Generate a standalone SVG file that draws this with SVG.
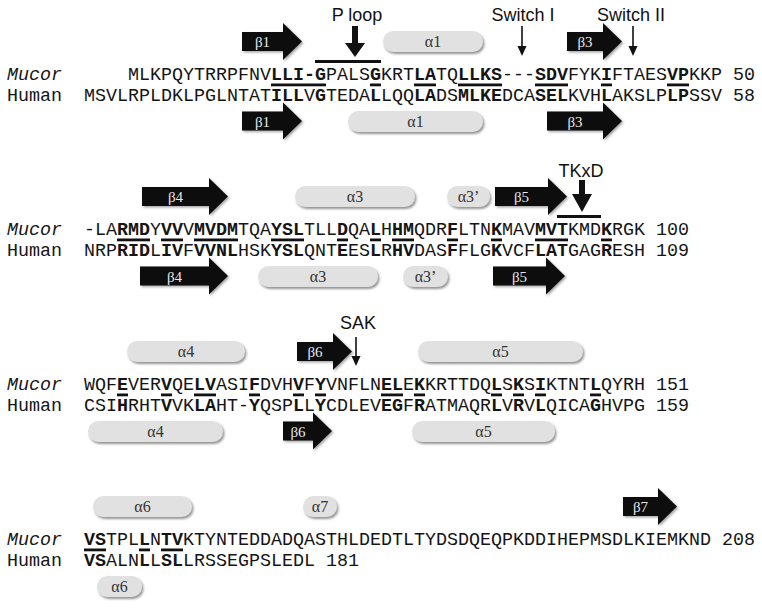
<svg xmlns="http://www.w3.org/2000/svg" width="762" height="609" viewBox="0 0 762 609">
<defs>
<filter id="sh" x="-10%" y="-10%" width="130%" height="140%"><feDropShadow dx="1.5" dy="1.5" stdDeviation="1" flood-color="#000" flood-opacity="0.35"/></filter>
<filter id="sh2" x="-10%" y="-20%" width="130%" height="150%"><feDropShadow dx="1.5" dy="2" stdDeviation="1" flood-color="#666" flood-opacity="0.7"/></filter>
</defs>
<style>
.seq{font-family:"Liberation Mono","Courier New",monospace;font-size:18.33px;fill:#151515}
.b{font-weight:bold}
.it{font-style:italic}
.lbl{font-family:"Liberation Sans",Arial,sans-serif;font-size:18px;fill:#111;text-anchor:middle}
.ul{fill:#111}
.strand{fill:#0d0d0d;filter:url(#sh)}
.st{font-family:"Liberation Serif","Times New Roman",serif;font-size:15px;fill:#e6e6e6;text-anchor:middle}
.helix{fill:#e1e1e1;filter:url(#sh2)}
.ht{font-family:"Liberation Serif","Times New Roman",serif;font-size:16px;fill:#333;text-anchor:middle}
.thin{stroke:#111;stroke-width:1.6;fill:none}
.head{fill:#111}
</style>
<rect width="762" height="609" fill="#fff"/>

<!-- Block 1 -->
<g id="block1">
  <g id="b1-labels">
    <text class="seq it" x="7" y="79.5">Mucor</text>
    <text class="seq" x="7" y="100.5">Human</text>
  </g>
  <text id="b1-mucor" class="seq" x="128" y="79.5">MLKPQYTRRPFNV<tspan class="b">LLI-G</tspan>PALS<tspan class="b">G</tspan>KRT<tspan class="b">LA</tspan>TQ<tspan class="b">LLKS</tspan>---<tspan class="b">SDV</tspan>FYK<tspan class="b">I</tspan>FTAES<tspan class="b">VP</tspan>KKP 50</text>
  <text id="b1-human" class="seq" x="84" y="100.5">MSVLRPLDKLPGLNTAT<tspan class="b">ILL</tspan>V<tspan class="b">G</tspan>TEDA<tspan class="b">L</tspan>LQQ<tspan class="b">LA</tspan>DS<tspan class="b">MLKE</tspan>DCA<tspan class="b">SEL</tspan>KVH<tspan class="b">L</tspan>AKSLP<tspan class="b">LP</tspan>SSV 58</text>
  <g id="b1-underlines" class="ul">
    <rect x="271" y="83.5" width="55" height="2.8"/>
    <rect x="370" y="83.5" width="11" height="2.8"/>
    <rect x="414" y="83.5" width="22" height="2.8"/>
    <rect x="458" y="83.5" width="44" height="2.8"/>
    <rect x="535" y="83.5" width="33" height="2.8"/>
    <rect x="601" y="83.5" width="11" height="2.8"/>
    <rect x="667" y="83.5" width="22" height="2.8"/>
    <rect x="315" y="60" width="66" height="3"/>
  </g>
  <g id="b1-ss">
    <path class="strand" d="M242,32 H283 V23 L302,41.5 L283,60 V51 H242 Z"/><text class="st" x="262.5" y="47">β1</text>
    <rect class="helix" x="383" y="31" width="100" height="21" rx="10.5"/><text class="ht" x="433" y="46.5">α1</text>
    <path class="strand" d="M567,32 H603 V23 L622,41.5 L603,60 V51 H567 Z"/><text class="st" x="585" y="47">β3</text>
    <path class="strand" d="M242,111.5 H283 V102.5 L302,121 L283,139.5 V130.5 H242 Z"/><text class="st" x="262.5" y="126.5">β1</text>
    <rect class="helix" x="348" y="111" width="135" height="21" rx="10.5"/><text class="ht" x="415.5" y="126.5">α1</text>
    <path class="strand" d="M547,111.5 H603 V102.5 L622,121 L603,139.5 V130.5 H547 Z"/><text class="st" x="575" y="126.5">β3</text>
  </g>
  <g id="b1-annot">
    <text class="lbl" x="357" y="21">P loop</text>
    <rect class="head" x="352" y="26" width="6" height="18"/>
    <polygon class="head" points="345,43 365,43 355,57"/>
    <text class="lbl" x="523" y="21">Switch I</text>
    <line class="thin" x1="522" y1="26" x2="522" y2="48"/>
    <polygon class="head" points="517.5,46 526.5,46 522,56"/>
    <text class="lbl" x="631" y="21">Switch II</text>
    <line class="thin" x1="633" y1="26" x2="633" y2="48"/>
    <polygon class="head" points="628.5,46 637.5,46 633,56"/>
  </g>
</g>

<!-- Block 2 -->
<g id="block2">
  <g id="b2-labels">
    <text class="seq it" x="7" y="234.5">Mucor</text>
    <text class="seq" x="7" y="255.5">Human</text>
  </g>
  <text id="b2-mucor" class="seq" x="84" y="234.5">-LA<tspan class="b">RMD</tspan>Y<tspan class="b">VV</tspan>V<tspan class="b">MVDM</tspan>TQA<tspan class="b">YSL</tspan>TLL<tspan class="b">D</tspan>QA<tspan class="b">L</tspan>H<tspan class="b">HM</tspan>QDR<tspan class="b">F</tspan>LTN<tspan class="b">K</tspan>MAV<tspan class="b">MVT</tspan>KMD<tspan class="b">K</tspan>RGK 100</text>
  <text id="b2-human" class="seq" x="84" y="255.5">NRP<tspan class="b">RID</tspan>L<tspan class="b">IV</tspan>F<tspan class="b">VVNL</tspan>HSK<tspan class="b">YSL</tspan>QNT<tspan class="b">E</tspan>ES<tspan class="b">L</tspan>R<tspan class="b">HV</tspan>DAS<tspan class="b">F</tspan>FLG<tspan class="b">K</tspan>VCF<tspan class="b">LAT</tspan>GAG<tspan class="b">R</tspan>ESH 109</text>
  <g id="b2-underlines" class="ul">
    <rect x="117" y="238.5" width="33" height="2.8"/>
    <rect x="161" y="238.5" width="22" height="2.8"/>
    <rect x="194" y="238.5" width="44" height="2.8"/>
    <rect x="271" y="238.5" width="33" height="2.8"/>
    <rect x="337" y="238.5" width="11" height="2.8"/>
    <rect x="370" y="238.5" width="11" height="2.8"/>
    <rect x="392" y="238.5" width="22" height="2.8"/>
    <rect x="447" y="238.5" width="11" height="2.8"/>
    <rect x="491" y="238.5" width="11" height="2.8"/>
    <rect x="535" y="238.5" width="33" height="2.8"/>
    <rect x="601" y="238.5" width="11" height="2.8"/>
    <rect x="557" y="215" width="44" height="3"/>
  </g>
  <g id="b2-ss">
    <path class="strand" d="M142,187 H209 V178 L228,196.5 L209,215 V206 H142 Z"/><text class="st" x="175.5" y="202">β4</text>
    <rect class="helix" x="295" y="186" width="120" height="21" rx="10.5"/><text class="ht" x="355" y="201.5">α3</text>
    <rect class="helix" x="447" y="186" width="43" height="21" rx="10.5"/><text class="ht" x="468.5" y="201.5">α3’</text>
    <path class="strand" d="M495,187 H548 V178 L567,196.5 L548,215 V206 H495 Z"/><text class="st" x="521.5" y="202">β5</text>
    <path class="strand" d="M140,266.5 H209 V257.5 L228,276 L209,294.5 V285.5 H140 Z"/><text class="st" x="174.5" y="281.5">β4</text>
    <rect class="helix" x="258" y="266" width="120" height="21" rx="10.5"/><text class="ht" x="318" y="281.5">α3</text>
    <rect class="helix" x="403" y="266" width="45" height="21" rx="10.5"/><text class="ht" x="425.5" y="281.5">α3’</text>
    <path class="strand" d="M493,266.5 H546 V257.5 L565,276 L546,294.5 V285.5 H493 Z"/><text class="st" x="519.5" y="281.5">β5</text>
  </g>
  <g id="b2-annot">
    <text class="lbl" x="581" y="177">TKxD</text>
    <rect class="head" x="579" y="180" width="6" height="15"/>
    <polygon class="head" points="572,194 592,194 582,212"/>
  </g>
</g>

<!-- Block 3 -->
<g id="block3">
  <g id="b3-labels">
    <text class="seq it" x="7" y="389.5">Mucor</text>
    <text class="seq" x="7" y="410.5">Human</text>
  </g>
  <text id="b3-mucor" class="seq" x="84" y="389.5">WQF<tspan class="b">E</tspan>VER<tspan class="b">V</tspan>QE<tspan class="b">LV</tspan>ASI<tspan class="b">F</tspan>DVH<tspan class="b">V</tspan>F<tspan class="b">Y</tspan>VNFLN<tspan class="b">EL</tspan>E<tspan class="b">K</tspan>KRTTDQ<tspan class="b">L</tspan>S<tspan class="b">K</tspan>S<tspan class="b">I</tspan>KTNT<tspan class="b">L</tspan>QYRH 151</text>
  <text id="b3-human" class="seq" x="84" y="410.5">CSI<tspan class="b">H</tspan>RHT<tspan class="b">V</tspan>VK<tspan class="b">LA</tspan>HT-<tspan class="b">Y</tspan>QSP<tspan class="b">L</tspan>L<tspan class="b">Y</tspan>CDLEV<tspan class="b">EG</tspan>F<tspan class="b">R</tspan>ATMAQR<tspan class="b">L</tspan>V<tspan class="b">R</tspan>V<tspan class="b">L</tspan>QICA<tspan class="b">G</tspan>HVPG 159</text>
  <g id="b3-underlines" class="ul">
    <rect x="117" y="393.5" width="11" height="2.8"/>
    <rect x="161" y="393.5" width="11" height="2.8"/>
    <rect x="194" y="393.5" width="22" height="2.8"/>
    <rect x="249" y="393.5" width="11" height="2.8"/>
    <rect x="293" y="393.5" width="11" height="2.8"/>
    <rect x="315" y="393.5" width="11" height="2.8"/>
    <rect x="381" y="393.5" width="22" height="2.8"/>
    <rect x="414" y="393.5" width="11" height="2.8"/>
    <rect x="491" y="393.5" width="11" height="2.8"/>
    <rect x="513" y="393.5" width="11" height="2.8"/>
    <rect x="535" y="393.5" width="11" height="2.8"/>
    <rect x="590" y="393.5" width="11" height="2.8"/>
  </g>
  <g id="b3-ss">
    <rect class="helix" x="127" y="341" width="118" height="21" rx="10.5"/><text class="ht" x="186" y="356.5">α4</text>
    <path class="strand" d="M297,342 H333 V333 L352,351.5 L333,370 V361 H297 Z"/><text class="st" x="315" y="357">β6</text>
    <rect class="helix" x="418" y="341" width="165" height="21" rx="10.5"/><text class="ht" x="500.5" y="356.5">α5</text>
    <rect class="helix" x="88" y="421" width="135" height="21" rx="10.5"/><text class="ht" x="155.5" y="436.5">α4</text>
    <path class="strand" d="M283,421.5 H313 V412.5 L332,431 L313,449.5 V440.5 H283 Z"/><text class="st" x="298" y="436.5">β6</text>
    <rect class="helix" x="412" y="421" width="143" height="21" rx="10.5"/><text class="ht" x="483.5" y="436.5">α5</text>
  </g>
  <g id="b3-annot">
    <text class="lbl" x="358" y="329">SAK</text>
    <line class="thin" x1="356" y1="337" x2="356" y2="358"/>
    <polygon class="head" points="351.5,356 360.5,356 356,366"/>
  </g>
</g>

<!-- Block 4 -->
<g id="block4">
  <g id="b4-labels">
    <text class="seq it" x="7" y="544.5">Mucor</text>
    <text class="seq" x="7" y="565.5">Human</text>
  </g>
  <text id="b4-mucor" class="seq" x="84" y="544.5"><tspan class="b">VS</tspan>TPL<tspan class="b">L</tspan>N<tspan class="b">TV</tspan>KTYNTEDDADQASTHLDEDTLTYDSDQEQPKDDIHEPMSDLKIEMKND 208</text>
  <text id="b4-human" class="seq" x="84" y="565.5"><tspan class="b">VS</tspan>ALN<tspan class="b">L</tspan>L<tspan class="b">SL</tspan>LRSSEGPSLEDL 181</text>
  <g id="b4-underlines" class="ul">
    <rect x="84" y="548.5" width="22" height="2.8"/>
    <rect x="139" y="548.5" width="11" height="2.8"/>
    <rect x="161" y="548.5" width="22" height="2.8"/>
  </g>
  <g id="b4-ss">
    <rect class="helix" x="93" y="496" width="99" height="21" rx="10.5"/><text class="ht" x="142.5" y="511.5">α6</text>
    <rect class="helix" x="303" y="496" width="34" height="21" rx="10.5"/><text class="ht" x="320" y="511.5">α7</text>
    <path class="strand" d="M623,497 H658 V488 L677,506.5 L658,525 V516 H623 Z"/><text class="st" x="640.5" y="512">β7</text>
    <rect class="helix" x="97" y="576" width="45" height="21" rx="10.5"/><text class="ht" x="119.5" y="591.5">α6</text>
  </g>
</g>
</svg>
